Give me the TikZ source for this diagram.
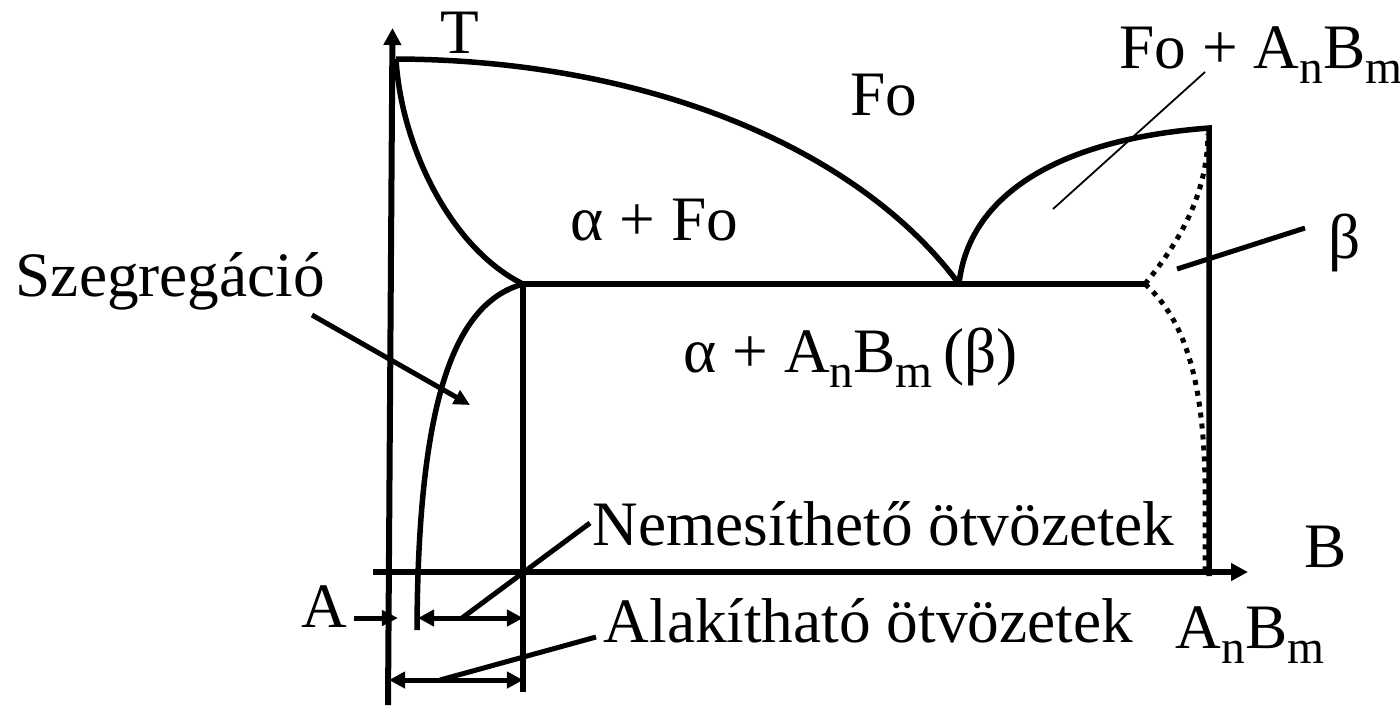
\documentclass[tikz,border=0pt]{standalone}
\usepackage{fontspec}
\setmainfont{Liberation Serif}
\usetikzlibrary{arrows.meta}
\newcommand{\subsc}[1]{\raisebox{-4.5pt}{\fontsize{13.5}{15}\selectfont #1}}
\begin{document}
\begin{tikzpicture}[x=0.01cm,y=-0.01cm,
  curve/.style={line width=0.055cm, line cap=butt, line join=miter},
  axisline/.style={line width=0.06cm, -{Triangle[length=0.17cm,width=0.17cm]}},
  lead/.style={line width=0.05cm},
  thinlead/.style={line width=0.018cm},
  dotline/.style={line width=0.05cm, dash pattern=on 0.05cm off 0.06cm},
  dimline/.style={line width=0.05cm, {Triangle[length=0.16cm,width=0.16cm]}-{Triangle[length=0.16cm,width=0.16cm]}},
  onearrow/.style={line width=0.05cm, -{Triangle[length=0.16cm,width=0.15cm]}},
  lbl/.style={inner sep=0pt, anchor=base west, font=\fontsize{18}{21}\selectfont}]
\useasboundingbox (0,0) rectangle (1400,705);
% coordinates
\coordinate (yb) at (388,705);
\coordinate (yt) at (392.5,28);
\coordinate (xl) at (373,572);
\coordinate (xr) at (1248,572);
\coordinate (top) at (396,59);
\coordinate (eL) at (523,284);
\coordinate (eu) at (959,284);
\coordinate (eR) at (1145,284);
\coordinate (rt) at (1209,128);
\coordinate (rb) at (1209,576);
\coordinate (sv) at (417,630);
\coordinate (vb) at (523,692);
\coordinate (dt) at (1208,134);
\coordinate (db) at (1205,572);
% axes
\draw[axisline] (yb) -- (yt);
\draw[axisline] (xl) -- (xr);
% phase boundaries
\draw[curve] (top) .. controls (650,60) and (860,150) .. (eu);
\draw[curve] (top) .. controls (401,145) and (450,248) .. (eL);
\draw[curve] (eL) .. controls (458,302) and (418,390) .. (sv);
\draw[curve] (eL) -- (vb);
\draw[curve] (eL) -- (eR);
\draw[curve] (eu) .. controls (968,200) and (1050,140) .. (rt) -- (rb);
\draw[dotline] (eR) .. controls (1185,235) and (1207,190) .. (dt);
\draw[dotline] (eR) .. controls (1185,320) and (1203,380) .. (1205,480) -- (db);
% labels
\node[lbl] (T) at (440,53) {T};
\node[lbl] (fo) at (850,115) {Fo};
\node[lbl] (afo) at (570,240) {α + Fo};
\node[lbl] (aab) at (683,372) {α + A\subsc{n}B\subsc{m}\,(β)};
\node[lbl] (foab) at (1119,68) {Fo + A\subsc{n}B\subsc{m}};
\node[lbl] (beta) at (1328,258) {β};
\node[lbl] (szeg) at (15,296) {Szegregáció};
\node[lbl] (B) at (1304,567) {B};
\node[lbl] (ab) at (1175,648) {A\subsc{n}B\subsc{m}};
\node[lbl] (A) at (301,627) {A};
\node[lbl] (nem) at (592,545) {Nemesíthető ötvözetek};
\node[lbl] (alak) at (603,642) {Alakítható ötvözetek};
% leaders
\coordinate (foa) at (1205,72);
\coordinate (fob) at (1053,209);
\draw[thinlead] (foa) -- (fob);
\coordinate (ba) at (1177,269);
\coordinate (bb) at (1305,228);
\draw[lead] (ba) -- (bb);
\coordinate (sza) at (312,315);
\coordinate (szb) at (470,405);
\draw[onearrow] (sza) -- (szb);
% dimension lines
\coordinate (d1l) at (418,618);
\coordinate (d1r) at (523,618);
\coordinate (d2l) at (389,680);
\coordinate (d2r) at (523,680);
\draw[dimline] (d1l) -- (d1r);
\draw[dimline] (d2l) -- (d2r);
\coordinate (n1) at (462,618);
\coordinate (n2) at (590,523);
\draw[lead] (n1) -- (n2);
\coordinate (a1) at (440,680);
\coordinate (a2) at (596,637);
\draw[lead] (a1) -- (a2);
\coordinate (aa1) at (354,618);
\coordinate (aa2) at (398,618);
\draw[onearrow] (aa1) -- (aa2);
\end{tikzpicture}
\end{document}
